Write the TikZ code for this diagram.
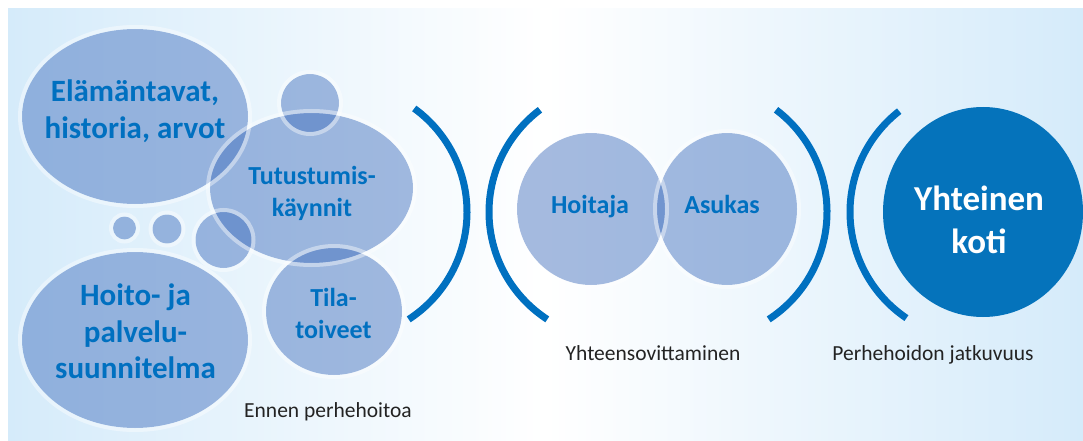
\documentclass[tikz,border=0pt]{standalone}
\usepackage{fontspec}
\setmainfont{Carlito}
\definecolor{bubblec}{RGB}{64,110,189}
\definecolor{tblue}{RGB}{0,112,192}
\definecolor{kblue}{RGB}{5,115,187}
\definecolor{bgside}{RGB}{213,235,250}
\definecolor{labelc}{RGB}{35,35,35}
\tikzset{
  bubble/.style={fill=bubblec, fill opacity=0.47},
  glow/.style={draw=white, draw opacity=0.42, line width=4pt},
  bracket/.style={draw=tblue, line width=7pt},
  bigtext/.style={text=tblue, font=\bfseries\fontsize{31}{36}\selectfont, anchor=base, inner sep=0pt},
  midtext/.style={text=tblue, font=\bfseries\fontsize{26}{32}\selectfont, anchor=base, inner sep=0pt},
  hometext/.style={text=white, font=\bfseries\fontsize{35}{42}\selectfont, anchor=base, inner sep=0pt},
  labeltext/.style={text=labelc, font=\fontsize{21.5}{26}\selectfont, anchor=base, inner sep=0pt}
}
\begin{document}
\begin{tikzpicture}[x=1pt,y=-1pt]
\useasboundingbox (0,0) rectangle (1083,441);
\fill[white] (0,0) rectangle (1083,441);
\shade[left color=bgside, right color=bgside, middle color=white] (8,9) rectangle (1083,441);

% bubbles: fills
\path[bubble] (135,116.5) ellipse [x radius=113, y radius=87.5];
\path[bubble] (311.5,188) ellipse [x radius=101.5, y radius=75];
\path[bubble] (310,103) circle [radius=29];
\path[bubble] (124.5,228) circle [radius=11.5];
\path[bubble] (167,229) circle [radius=14.5];
\path[bubble] (223.5,240) circle [radius=28];
\path[bubble] (135,340) ellipse [x radius=113, y radius=88];
\path[bubble] (334,311.5) ellipse [x radius=68, y radius=63.5];
\path[bubble] (591,209) ellipse [x radius=74, y radius=76];
\path[bubble] (727,209) ellipse [x radius=70, y radius=76];

% glows
\draw[glow] (135,116.5) ellipse [x radius=115, y radius=89.5];
\draw[glow] (311.5,188) ellipse [x radius=103.5, y radius=77];
\draw[glow] (310,103) circle [radius=31];
\draw[glow] (124.5,228) circle [radius=13.5];
\draw[glow] (167,229) circle [radius=16.5];
\draw[glow] (223.5,240) circle [radius=30];
\draw[glow] (135,340) ellipse [x radius=115, y radius=90];
\draw[glow] (334,311.5) ellipse [x radius=70, y radius=65.5];
\draw[glow] (591,209) ellipse [x radius=76, y radius=78];
\draw[glow] (727,209) ellipse [x radius=72, y radius=78];

% home circle
\fill[kblue] (983,212) ellipse [x radius=100, y radius=105];

% brackets
\draw[bracket] (339,212) ++(-54:128) arc[start angle=-54, end angle=57, radius=128];
\draw[bracket] (617,212) ++(233:128) arc[start angle=233, end angle=123, radius=128];
\draw[bracket] (699,212) ++(-53:128) arc[start angle=-53, end angle=57, radius=128];
\draw[bracket] (978,212) ++(232:128) arc[start angle=232, end angle=124, radius=128];

% texts
\node[bigtext] (e1) at (135,102) {Elämäntavat,};
\node[bigtext] (e2) at (135,138) {historia, arvot};
\node[midtext] (t1) at (312,184) {Tutustumis-};
\node[midtext] (t2) at (312,216) {käynnit};
\node[bigtext] (h1) at (135.5,305) {Hoito- ja};
\node[bigtext] (h2) at (135.5,342) {palvelu-};
\node[bigtext] (h3) at (135.5,378) {suunnitelma};
\node[midtext] (ti1) at (333.5,306) {Tila-};
\node[midtext] (ti2) at (333.5,338) {toiveet};
\node[midtext] (ho) at (590,213) {Hoitaja};
\node[midtext] (as) at (722,213) {Asukas};
\node[hometext] (y1) at (979,210) {Yhteinen};
\node[hometext] (y2) at (979,253) {koti};
\node[labeltext] (l1) at (328,417) {Ennen perhehoitoa};
\node[labeltext] (l2) at (653,360) {Yhteensovittaminen};
\node[labeltext] (l3) at (933,360) {Perhehoidon jatkuvuus};
\end{tikzpicture}
\end{document}
